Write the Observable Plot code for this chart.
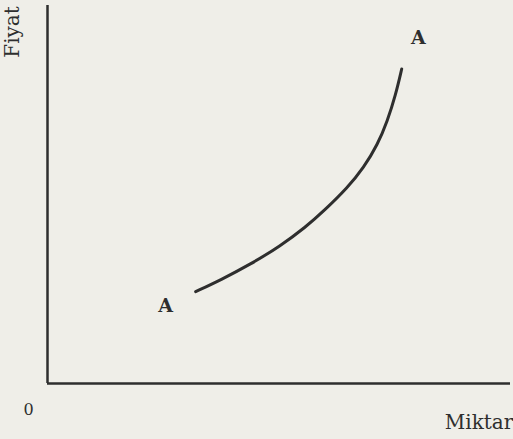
<!DOCTYPE html>
<html>
<head>
<meta charset="utf-8">
<script src="https://cdn.jsdelivr.net/npm/d3@7"></script>
<script src="https://cdn.jsdelivr.net/npm/@observablehq/plot@0.6"></script>
<style>
  html, body { margin: 0; padding: 0; background: #efeee8; }
  #chart svg { display: block; }
</style>
</head>
<body>
<div id="chart"></div>
<script>
// Supply curve A–A (quantity, price) in chart units
const quantity = [3.20, 3.74, 4.38, 5.03, 5.57, 6.00, 6.48, 6.83, 7.13, 7.34, 7.52, 7.65];
const price    = [2.43, 2.74, 3.15, 3.64, 4.13, 4.60, 5.18, 5.71, 6.32, 6.94, 7.64, 8.32];

// Text labels
const labelText = ["A", "A"];
const labelX = [2.55, 8.01];
const labelY = [2.06, 9.13];

const axisNames = ["Fiyat", "Miktar", "0"];

const curve = quantity.map((q, i) => ({q, p: price[i]}));
const labels = labelText.map((t, i) => ({t, x: labelX[i], y: labelY[i]}));

const ink = "#2e2e2e";
const serif = "DejaVu Serif, Liberation Serif, serif";

const chart = Plot.plot({
  width: 513,
  height: 439,
  marginTop: 0, marginRight: 0, marginBottom: 0, marginLeft: 0,
  style: { background: "#efeee8", fontFamily: serif },
  x: { domain: [0, 10], range: [47, 510], axis: null },
  y: { domain: [0, 10], range: [383, 5], axis: null },
  marks: [
    Plot.ruleX([0], { y1: 0, y2: 10, stroke: ink, strokeWidth: 2.5 }),
    Plot.ruleY([0], { x1: 0, x2: 10, stroke: ink, strokeWidth: 2.5 }),
    Plot.line(curve, { x: "q", y: "p", curve: "basis", stroke: ink, strokeWidth: 3, strokeLinecap: "round" }),
    Plot.text(labels, { x: "x", y: "y", text: "t", fontSize: 19, fontWeight: 600, fill: ink }),
    Plot.text([axisNames[0]], { x: -0.76, y: 9.3, text: d => d, rotate: -90, fontSize: 20, fill: ink }),
    Plot.text([axisNames[1]], { x: 10.06, y: -1.03, text: d => d, textAnchor: "end", fontSize: 20, fill: ink }),
    Plot.text([axisNames[2]], { x: -0.41, y: -0.71, text: d => d, fontSize: 16, fill: ink })
  ]
});
document.getElementById("chart").append(chart);
</script>
</body>
</html>
